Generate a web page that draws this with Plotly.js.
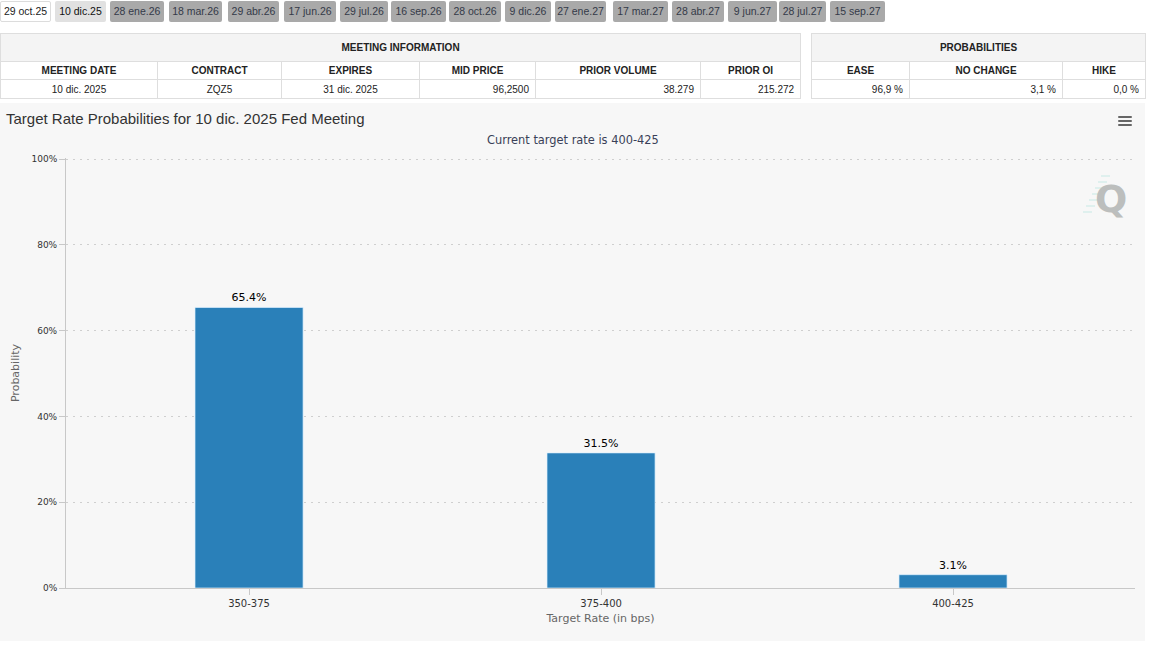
<!DOCTYPE html>
<html>
<head>
<meta charset="utf-8">
<script src="https://cdn.plot.ly/plotly-3.0.1.min.js"></script>
<style>
  html, body { margin:0; padding:0; background:#fff; width:1155px; height:648px; overflow:hidden; }
  body { font-family: "Liberation Sans", Arial, sans-serif; position:relative; }
  .tab { position:absolute; top:1px; height:21px; line-height:21px; font-size:10.5px; text-align:center;
         border-radius:2px; box-sizing:border-box; color:#343a48; background:#a9a9a9; white-space:nowrap; }
  .tab.sel { background:#fff; border:1px solid #dcdcdc; color:#222; line-height:19px; }
  .tab.cur { background:#e1e1e1; color:#111; }
  table.info { position:absolute; border-collapse:collapse; table-layout:fixed; font-size:10px; color:#222; }
  table.info td { border:1px solid #dedede; padding:0; box-sizing:border-box; white-space:nowrap; overflow:hidden; }
  table.info tr.h1 td { height:28px; background:#f4f4f4; font-weight:bold; text-align:center; }
  table.info tr.h2 td { height:18px; background:#fff; font-weight:bold; text-align:center; }
  table.info tr.d td { height:19px; background:#fff; }
  td.c { text-align:center; }
  td.r { text-align:right; padding-right:6px !important; }
  #chart { position:absolute; left:0; top:103px; width:1145px; height:538px; }
  #menu { position:absolute; left:1118px; top:116px; width:14px; }
  #menu div { height:2px; background:#666; margin-bottom:2px; border-radius:1px; }
</style>
</head>
<body>
<div id="tabs"></div>
<table class="info" id="meet" style="left:0;top:33px;width:800px;">
  <colgroup><col style="width:157px"><col style="width:124px"><col style="width:138px"><col style="width:116px"><col style="width:165px"><col style="width:100px"></colgroup>
</table>
<table class="info" id="prob" style="left:811px;top:33px;width:334px;">
  <colgroup><col style="width:98px"><col style="width:153px"><col style="width:83px"></colgroup>
</table>
<div id="chart"></div>
<div id="menu"><div></div><div></div><div></div></div>
<script>
// ---- data ----
const meetingTabs = ['29 oct.25','10 dic.25','28 ene.26','18 mar.26','29 abr.26','17 jun.26','29 jul.26','16 sep.26','28 oct.26','9 dic.26','27 ene.27','17 mar.27','28 abr.27','9 jun.27','28 jul.27','15 sep.27'];
const meetingHeaders = ['MEETING DATE','CONTRACT','EXPIRES','MID PRICE','PRIOR VOLUME','PRIOR OI'];
const meetingValues = ['10 dic. 2025','ZQZ5','31 dic. 2025','96,2500','38.279','215.272'];
const probHeaders = ['EASE','NO CHANGE','HIKE'];
const probValues = ['96,9 %','3,1 %','0,0 %'];
const categories = ['350-375','375-400','400-425'];
const probabilities = [65.4, 31.5, 3.1];
const yTickVals = [0, 20, 40, 60, 80, 100];
const yTickText = ['0%','20%','40%','60%','80%','100%'];
const chartTitle = 'Target Rate Probabilities for 10 dic. 2025 Fed Meeting';
const chartSubtitle = 'Current target rate is 400-425';

// ---- layout helpers (positions, not data) ----
const tabBoxes = [[0,51],[55,51],[110,54],[169,53],[228,51],[284,52],[340,48],[391,55],[449,52],[505,46],[555,51],[613,55],[672,52],[728,49],[779,47],[830,55]];
const tabsDiv = document.getElementById('tabs');
meetingTabs.forEach((t,i)=>{
  const d = document.createElement('div');
  d.className = 'tab' + (i===0?' sel':(i===1?' cur':''));
  d.style.left = tabBoxes[i][0]+'px'; d.style.width = tabBoxes[i][1]+'px';
  d.textContent = t; tabsDiv.appendChild(d);
});
function buildTable(id, title, headers, values, aligns){
  const tb = document.getElementById(id);
  let h = '<tr class="h1"><td colspan="'+headers.length+'">'+title+'</td></tr>';
  h += '<tr class="h2">' + headers.map(x=>'<td>'+x+'</td>').join('') + '</tr>';
  h += '<tr class="d">' + values.map((x,i)=>'<td class="'+aligns[i]+'">'+x+'</td>').join('') + '</tr>';
  tb.insertAdjacentHTML('beforeend', h);
}
buildTable('meet','MEETING INFORMATION', meetingHeaders, meetingValues, ['c','c','c','r','r','r']);
buildTable('prob','PROBABILITIES', probHeaders, probValues, ['r','r','r']);

// ---- chart ----
const trace = {
  type:'bar', x:categories, y:probabilities, width:0.307,
  marker:{color:'#2a80b9', line:{color:'rgba(220,240,255,0.7)', width:1}},
  text: probabilities.map(v=>v.toFixed(1)+'%'),
  textposition:'outside', cliponaxis:false,
  textfont:{family:'DejaVu Sans, Verdana, sans-serif', size:11, color:'#000'},
  hoverinfo:'x+y'
};
// decorative watermark streaks left of the "Q"
const wmLines = [];
for (let k=0;k<7;k++){
  const yy = 176 + k*6;
  const xl = 1101 - k*3;
  wmLines.push({type:'line', xref:'paper', yref:'paper',
    x0:(xl-66)/1069, x1:(xl+9-66)/1069,
    y0:(588-yy)/430, y1:(588-yy)/430,
    line:{color:'rgba(140,215,205,0.45)', width:1}});
}
const layout = {
  width:1145, height:538,
  margin:{l:66, r:10, t:55, b:53},
  paper_bgcolor:'#f7f7f7', plot_bgcolor:'#f7f7f7',
  showlegend:false, bargap:0.69,
  title:{text:chartTitle, xref:'container', x:6/1145, xanchor:'left', yref:'container', y:1-16/538, yanchor:'middle',
         font:{family:'Liberation Sans, Arial, sans-serif', size:15, color:'#333'}},
  xaxis:{type:'category', range:[-0.52, 2.517], showline:true, linecolor:'#c8c8c8', linewidth:1,
         ticks:'outside', ticklen:6, tickcolor:'#c8c8c8', showgrid:false, zeroline:false,
         tickfont:{family:'DejaVu Sans, Verdana, sans-serif', size:10, color:'#333'},
         title:{text:'Target Rate (in bps)', standoff:6, font:{family:'DejaVu Sans, Verdana, sans-serif', size:11, color:'#666'}},
         fixedrange:true},
  yaxis:{range:[0,100.25], tickvals:yTickVals, ticktext:yTickText, showgrid:true, gridcolor:'#cfcfcf', griddash:'2px,5px', gridwidth:1,
         showline:true, linecolor:'#c8c8c8', ticks:'outside', ticklen:6, tickcolor:'#c8c8c8', zeroline:false,
         tickfont:{family:'DejaVu Sans, Verdana, sans-serif', size:9, color:'#333'},
         title:{text:'Probability', standoff:9, font:{family:'DejaVu Sans, Verdana, sans-serif', size:11, color:'#666'}},
         fixedrange:true},
  annotations:[
    {text:chartSubtitle, xref:'paper', yref:'paper', x:(572.5-66)/1069, y:(588-140)/430, xanchor:'center', yanchor:'middle',
     showarrow:false, font:{family:'DejaVu Sans, Verdana, sans-serif', size:11.4, color:'#3a3f58'}},
    {text:'<b>Q</b>', xref:'paper', yref:'paper', x:(1111-66)/1069, y:(588-199)/430, xanchor:'center', yanchor:'middle',
     showarrow:false, font:{family:'DejaVu Sans, Verdana, sans-serif', size:38, color:'#bcbebd'}}
  ],
  shapes: wmLines
};
Plotly.newPlot('chart', [trace], layout, {displayModeBar:false, responsive:false});
</script>
</body>
</html>
